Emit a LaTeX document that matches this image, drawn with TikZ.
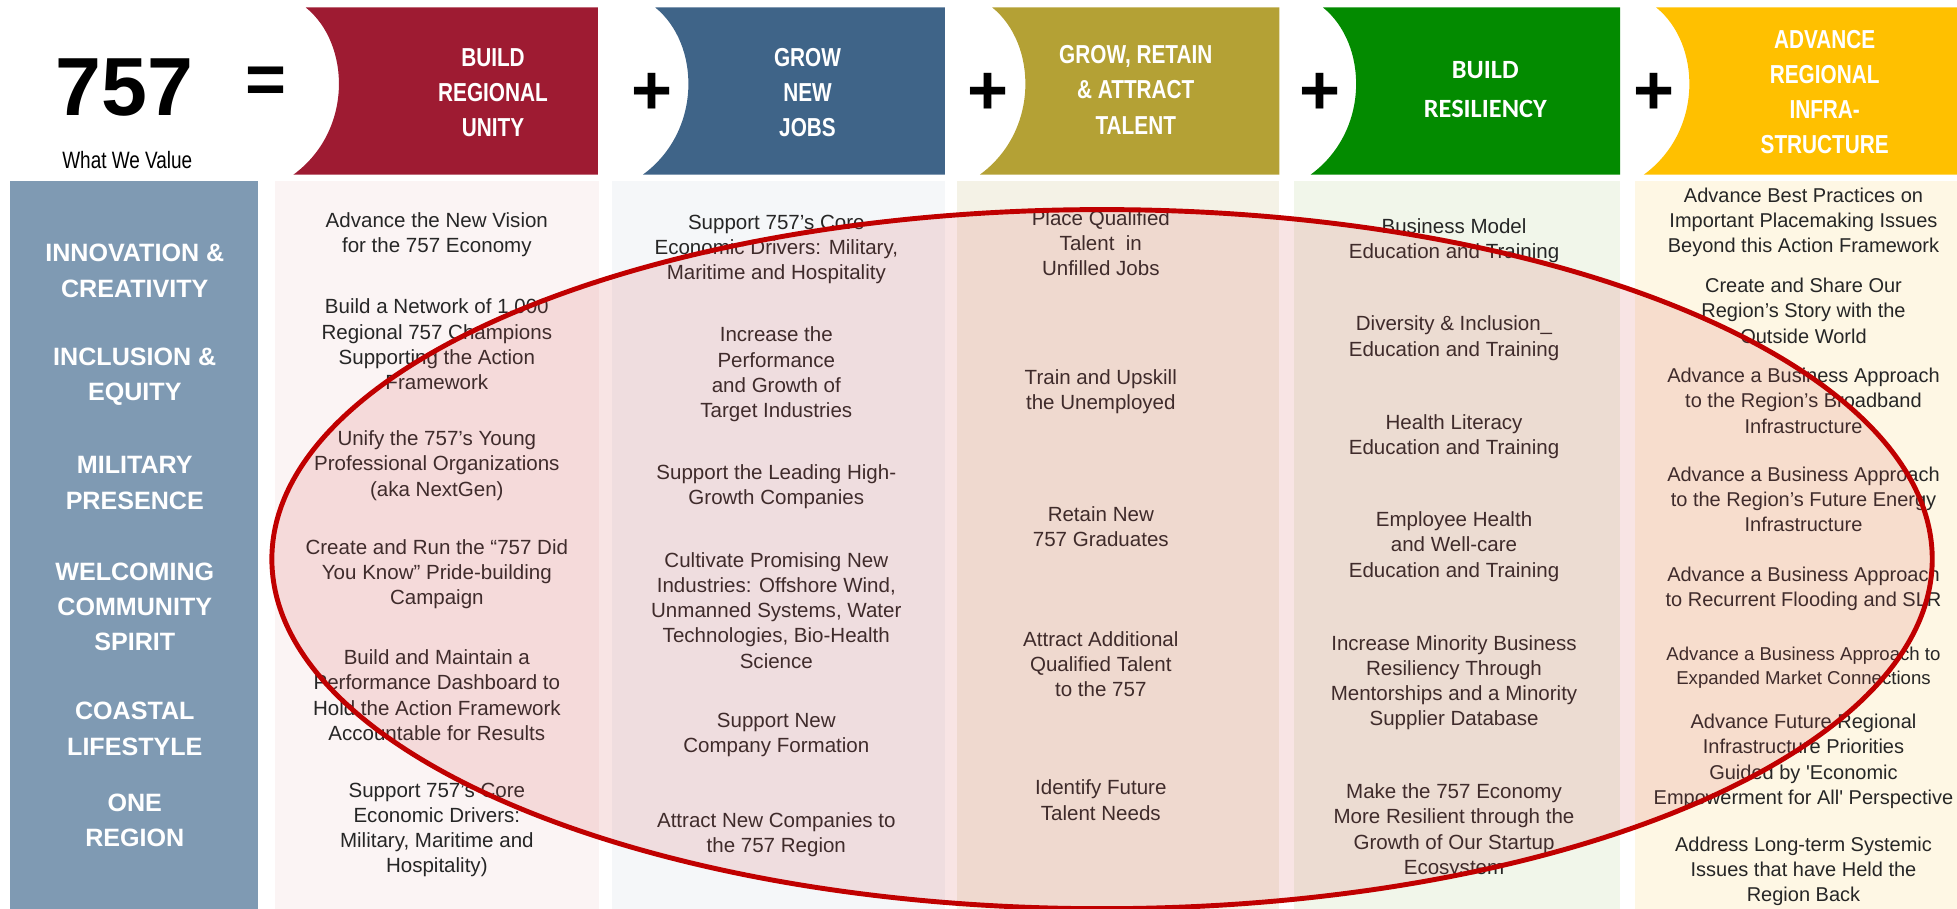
\documentclass[tikz,border=0pt]{standalone}
\usepackage{fontspec}
\setmainfont{Liberation Sans}
\newfontfamily\narrowfont{Liberation Sans}[FakeStretch=0.8]
\newfontfamily\calfont{Carlito}
\usepackage{tikz}
\usetikzlibrary{positioning}

\definecolor{unityred}{HTML}{9E1B32}
\definecolor{jobsblue}{HTML}{3F6488}
\definecolor{talentolive}{HTML}{B4A135}
\definecolor{resgreen}{HTML}{038B00}
\definecolor{infrayellow}{HTML}{FFC000}
\definecolor{valueblue}{HTML}{7F9AB3}
\definecolor{paneltwo}{HTML}{FBF4F4}
\definecolor{panelthree}{HTML}{F5F7F9}
\definecolor{panelfour}{HTML}{F4F2E6}
\definecolor{panelfive}{HTML}{F1F6EA}
\definecolor{panelsix}{HTML}{FEF7E4}
\definecolor{ovalred}{HTML}{C00000}
\definecolor{ink}{HTML}{262626}

\begin{document}
\begin{tikzpicture}[x=0.025cm, y=-0.025cm,
  item/.style={align=center, text=ink, inner sep=0pt, font=\fontsize{11.7}{14.4}\selectfont},
  value/.style={align=center, text=white, inner sep=0pt, font=\fontsize{14.3}{20}\selectfont\bfseries},
  head/.style={align=center, text=white, inner sep=0pt, font=\narrowfont\fontsize{14.8}{20}\selectfont\bfseries},
  sign/.style={inner sep=0pt, font=\fontsize{40}{40}\selectfont\bfseries}]
\useasboundingbox (0,0) rectangle (1568,728);

% Header
\node[inner sep=0pt, font=\fontsize{47}{47}\selectfont\bfseries] (num) at (100,70) {757};
\node[inner sep=0pt, font=\narrowfont\fontsize{13.5}{15}\selectfont] (what) at (102,128) {What We Value};
\node[sign] (eq) at (213,68) {=};
\foreach \xl/\xr/\c in {245/479/unityred, 525/757/jobsblue, 795/1025/talentolive,
                        1060/1298/resgreen, 1327/1568/infrayellow} {
  \fill[\c] (\xl,6) -- (\xr,6) -- (\xr,140) -- (\xl-10,140)
    .. controls (\xl+38,105) and (\xl+36,35) .. cycle;
}
\foreach \x [count=\i] in {522,792,1058,1325}
  \node[sign] (plus\i) at (\x,75) {+};
\node[head] (unity) at (395,74) {BUILD\\REGIONAL\\UNITY};
\node[head] (jobs) at (647,74) {GROW\\NEW\\JOBS};
\node[head] (talent) at (910,72) {GROW, RETAIN\\\& ATTRACT\\TALENT};
\node[head, font=\calfont\fontsize{15}{22}\selectfont\bfseries] (resil) at (1190,72) {BUILD\\RESILIENCY};
\node[head] (infra) at (1462,74) {ADVANCE\\REGIONAL\\INFRA-\\STRUCTURE};

% Panels
\fill[valueblue] (8,145) rectangle (207,728);
\foreach \xa/\xb/\c in {220/480/paneltwo, 490/757/panelthree, 767/1025/panelfour,
                        1037/1298/panelfive, 1310/1568/panelsix}
  \fill[\c] (\xa,145) rectangle (\xb,728);

% What we value
\foreach \y/\t [count=\i] in {217/{INNOVATION \&\\CREATIVITY}, 302/{INCLUSION \&\\EQUITY},
    387/{MILITARY\\PRESENCE}, 486/{WELCOMING\\COMMUNITY\\SPIRIT},
    584/{COASTAL\\LIFESTYLE}, 657/{ONE\\REGION}}
  \node[value] (val\i) at (108,\y) {\t};

% Build regional unity
\foreach \y/\t [count=\i] in {188/{Advance the New Vision\\for the 757 Economy},
    276/{Build a Network of 1,000\\Regional 757 Champions\\Supporting the Action\\Framework},
    373/{Unify the 757’s Young\\Professional Organizations\\(aka NextGen)},
    460/{Create and Run the “757 Did\\You Know” Pride-building\\Campaign},
    557/{Build and Maintain a\\Performance Dashboard to\\Hold the Action Framework\\Accountable for Results},
    665/{Support 757’s Core\\Economic Drivers:\\Military, Maritime and\\Hospitality)}}
  \node[item] (unity\i) at (350,\y) {\t};

% Grow new jobs
\foreach \y/\t [count=\i] in {200/{Support 757’s Core\\Economic Drivers: Military,\\Maritime and Hospitality},
    300/{Increase the\\Performance\\and Growth of\\Target Industries},
    390/{Support the Leading High-\\Growth Companies},
    489/{Cultivate Promising New\\Industries: Offshore Wind,\\Unmanned Systems, Water\\Technologies, Bio-Health\\Science},
    589/{Support New\\Company Formation},
    669/{Attract New Companies to\\the 757 Region}}
  \node[item] (jobs\i) at (622,\y) {\t};

% Grow, retain and attract talent
\foreach \y/\t [count=\i] in {195/{Place Qualified\\Talent~ in\\Unfilled Jobs},
    314/{Train and Upskill\\the Unemployed},
    422/{Retain New\\757 Graduates},
    532/{Attract Additional\\Qualified Talent\\to the 757},
    641/{Identify Future\\Talent Needs}}
  \node[item] (talent\i) at (882,\y) {\t};

% Build resiliency
\foreach \y/\t [count=\i] in {193/{Business Model\\Education and Training},
    271/{Diversity \& Inclusion\_\\Education and Training},
    350/{Health Literacy\\Education and Training},
    438/{Employee Health\\and Well-care\\Education and Training},
    547/{Increase Minority Business\\Resiliency Through\\Mentorships and a Minority\\Supplier Database},
    666/{Make the 757 Economy\\More Resilient through the\\Growth of Our Startup\\Ecosystem}}
  \node[item] (resil\i) at (1165,\y) {\t};

% Advance regional infrastructure
\foreach \y/\t [count=\i] in {178/{Advance Best Practices on\\Important Placemaking Issues\\Beyond this Action Framework},
    249/{Create and Share Our\\Region’s Story with the\\Outside World},
    321/{Advance a Business Approach\\to the Region’s Broadband\\Infrastructure},
    400/{Advance a Business Approach\\to the Region’s Future Energy\\Infrastructure},
    472/{Advance a Business Approach\\to Recurrent Flooding and SLR},
    610/{Advance Future Regional\\Infrastructure Priorities\\Guided by \textquotesingle Economic\\Empowerment for All\textquotesingle\ Perspective},
    698/{Address Long-term Systemic\\Issues that have Held the\\Region Back}}
  \node[item, font=\fontsize{11.4}{14.4}\selectfont] (infra\i) at (1445,\y) {\t};
\node[item, font=\fontsize{10.6}{14.2}\selectfont] (infra8) at (1445,535)
  {Advance a Business Approach to\\Expanded Market Connections};

% Focus oval
\draw[ovalred, line width=2.8pt, fill=ovalred!70, fill opacity=0.15]
  (883,448) ellipse [x radius=16.625cm, y radius=7cm];
\end{tikzpicture}
\end{document}
